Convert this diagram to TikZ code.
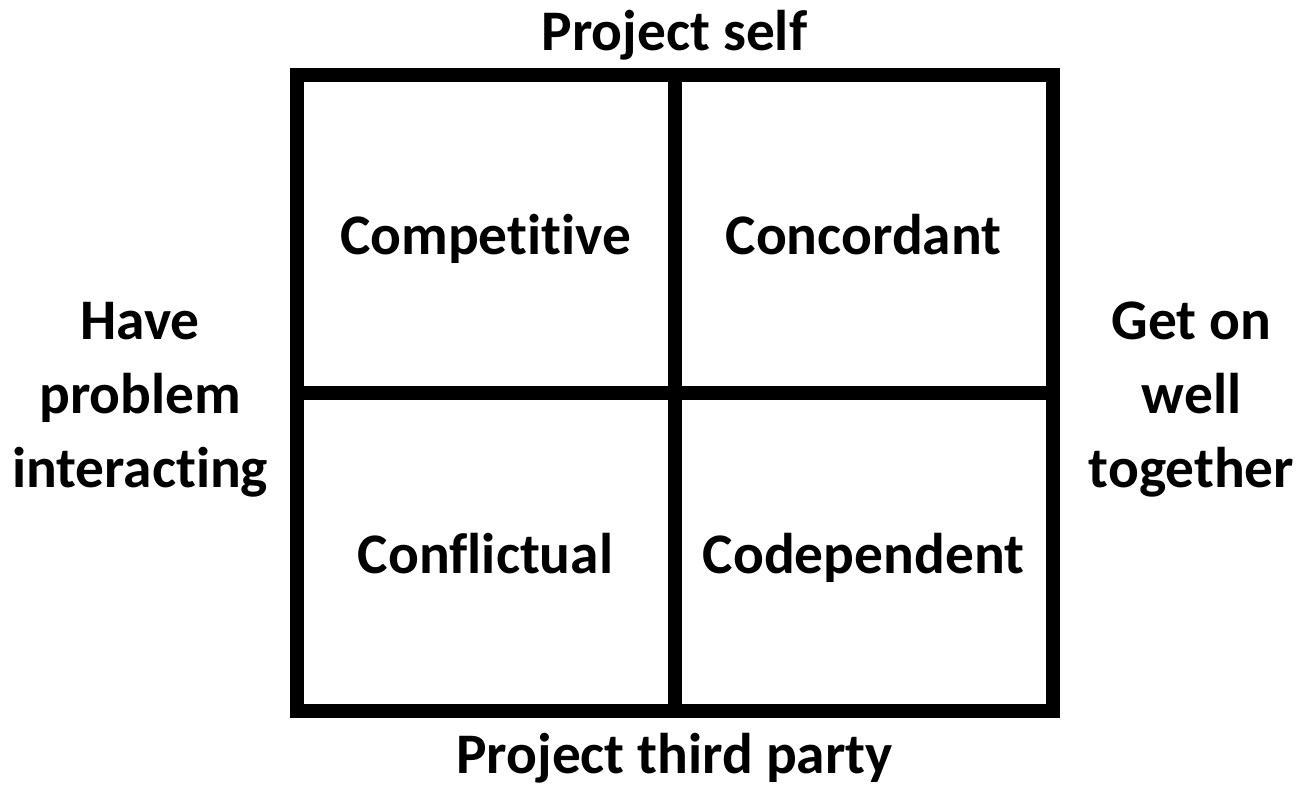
\documentclass[tikz,border=0pt]{standalone}
\usepackage{fontspec}
\setmainfont{Carlito}[Ligatures=NoCommon]
\usetikzlibrary{positioning}

\begin{document}
\begin{tikzpicture}
[node distance=0pt,
every node/.style={font=\bfseries\fontsize{28.7}{37}\selectfont},
cell/.style={draw, line width=7pt, outer sep=0pt, minimum width=189pt, minimum height=159pt,
  text height=21pt, text depth=0pt},
axis/.style={align=center, inner sep=0pt}
]
  \useasboundingbox (0,0) rectangle (648.5pt,-393pt);

  \node[cell]		(comp) at (242.75pt,-117pt)	{Competitive};
  \node[cell]		(conc) [right=of comp]		{Concordant};
  \node[cell]		(confl) [below=of comp]		{Conflictual};
  \node[cell]		(codep) [below=of conc]		{Codependent};

  \node[axis]		(self) [above=12pt of comp.north east, anchor=base]	{Project self};
  \node[axis]		(third) [below=31pt of confl.south east, anchor=base]	{Project third party};
  \node[axis]		(problem) [left=14pt of comp.south west, yshift=-3.5pt]		{Have\\problem\\interacting};
  \node[axis]		(well) [right=18pt of conc.south east, yshift=-3.5pt]		{Get on\\well\\together};
\end{tikzpicture}
\end{document}
